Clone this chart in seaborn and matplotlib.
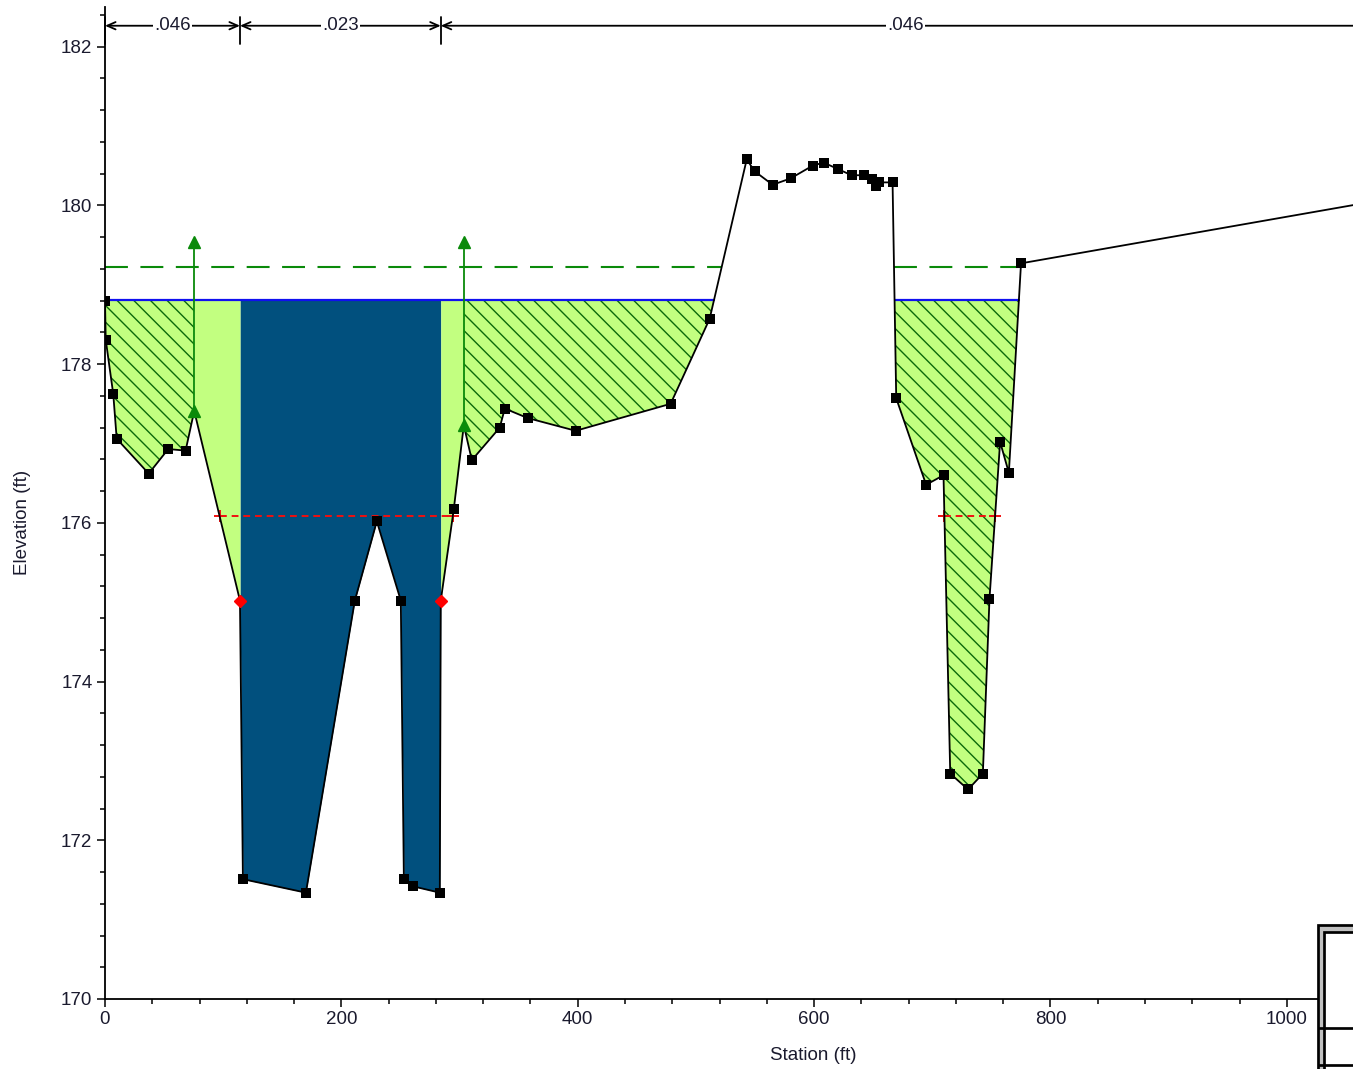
import numpy as np
import matplotlib
matplotlib.use("Agg")
import matplotlib.pyplot as plt
from matplotlib.patches import Rectangle
from matplotlib.lines import Line2D
from matplotlib.ticker import MultipleLocator
import seaborn as sns

# ---- cross-section data (ft) ----
station = [0.0, 0.6, 7.0, 9.9, 37.0, 53.5, 68.2, 75.5, 114.2, 116.7, 170.0, 211.4,
           230.0, 250.3, 252.9, 260.5, 283.3, 284.1, 295.1, 303.6, 310.4, 334.0,
           338.3, 357.7, 398.3, 478.6, 511.6, 543.0, 549.7, 564.9, 580.1, 598.7,
           608.0, 619.9, 631.7, 641.9, 648.6, 652.0, 654.6, 666.4, 669.5, 694.8,
           709.5, 715.2, 730.3, 742.8, 748.4, 757.4, 764.8, 775.1, 1070.0]
elevation = [178.80, 178.31, 177.62, 177.06, 176.62, 176.93, 176.91, 177.41, 175.02,
             171.51, 171.34, 175.02, 176.02, 175.02, 171.51, 171.42, 171.34, 175.02,
             176.17, 177.23, 176.79, 177.20, 177.44, 177.32, 177.16, 177.50, 178.57,
             180.58, 180.43, 180.26, 180.34, 180.50, 180.54, 180.46, 180.38, 180.38,
             180.33, 180.24, 180.29, 180.29, 177.57, 176.48, 176.60, 172.84, 172.64,
             172.84, 175.04, 177.02, 176.63, 179.27, 180.04]

levee_station = [75.5, 303.6]
levee_top = 179.54
bank_station = [114.2, 284.1]
ineffective_ranges = [(0.0, 75.5), (303.6, 1070.0)]

ws_elev = 178.81     # water surface
eg_elev = 179.22     # energy grade
crit_elev = 176.08   # critical water surface

n_breaks = [0.0, 114.2, 284.1, 1070.0]
n_values = [".046", ".023", ".046"]

x_ticks = [0, 200, 400, 600, 800, 1000]
y_ticks = [170, 172, 174, 176, 178, 180, 182]

# ---- colours ----
CHANNEL = "#01507E"
OVERBANK = "#C2FF80"
HATCH = "#0B6A0B"
GREEN = "#0A8A0A"

sns.set_theme(style="ticks")
plt.rcParams["font.family"] = ["Liberation Sans", "DejaVu Sans"]
plt.rcParams["hatch.linewidth"] = 1.0
plt.rcParams["hatch.color"] = HATCH

st = np.array(station)
el = np.array(elevation)

W, H = 1353, 1069
fig = plt.figure(figsize=(W / 100, H / 100), dpi=100)
ax = fig.add_axes([105 / W, 70 / H, 1 - 105 / W, 1 - 77 / H])
ax.set_facecolor("white")


def wet_ranges(level):
    """Station intervals where the ground lies below a given level."""
    out, start = [], (st[0] if el[0] < level else None)
    for i in range(1, len(st)):
        a, b = el[i - 1] < level, el[i] < level
        if a != b:
            t = (level - el[i - 1]) / (el[i] - el[i - 1])
            xc = st[i - 1] + t * (st[i] - st[i - 1])
            if b:
                start = xc
            else:
                out.append((start, xc))
                start = None
    if start is not None:
        out.append((start, st[-1]))
    return out


def fill_water(a, b, **kw):
    m = (st >= a) & (st <= b)
    ax.fill_between(st[m], el[m], ws_elev, where=el[m] < ws_elev,
                    interpolate=True, linewidth=0, zorder=1, **kw)


# main channel and effective overbank flow
fill_water(bank_station[0], bank_station[1], color=CHANNEL)
fill_water(levee_station[0], bank_station[0], color=OVERBANK)
fill_water(bank_station[1], levee_station[1], color=OVERBANK)
# ineffective flow areas (hatched)
for a, b in ineffective_ranges:
    fill_water(a, b, facecolor=OVERBANK, edgecolor=HATCH, hatch="\\\\")

# energy grade, water surface, critical depth
for a, b in wet_ranges(eg_elev):
    ax.plot([a, b], [eg_elev, eg_elev], color=GREEN, lw=1.5,
            dashes=(11, 6), zorder=2)
for a, b in wet_ranges(ws_elev):
    ax.plot([a, b], [ws_elev, ws_elev], color="#1010F0", lw=1.6, zorder=3)
for a, b in wet_ranges(crit_elev):
    ax.plot([a, b], [crit_elev, crit_elev], color="#F01010", lw=1.4,
            dashes=(3.5, 2.5), zorder=3)
    ax.plot([a, b], [crit_elev, crit_elev], ls="none", color="#F01010",
            marker="+", markersize=9, markeredgewidth=1.4, zorder=3)

# ground line and survey points
sns.lineplot(x=st, y=el, sort=False, estimator=None, color="black", lw=1.3,
             ax=ax, zorder=4)
plain = ~np.isin(st, levee_station + bank_station) & (st < 1056)
sns.scatterplot(x=st[plain], y=el[plain], marker="s", s=48, color="black",
                linewidth=0, ax=ax, zorder=5)

# bank stations
bank_el = el[np.isin(st, bank_station)]
ax.plot(bank_station, bank_el, ls="none", marker="D", markersize=6.5,
        color="#FF0000", zorder=6)

# levees
for s in levee_station:
    g = el[st == s][0]
    ax.plot([s, s], [g, levee_top], color=GREEN, lw=1.3, zorder=6)
    ax.plot([s, s], [g, levee_top], ls="none", marker="^", markersize=8,
            color=GREEN, zorder=6)

# Manning's n bar along the top
y_n = 182.264
for b in n_breaks[:-1]:
    ax.plot([b, b], [182.04, 182.38], color="black", lw=1.3, zorder=6,
            clip_on=False)
for a, b, n in zip(n_breaks[:-1], n_breaks[1:], n_values):
    ax.annotate("", xy=(b, y_n), xytext=(a, y_n), annotation_clip=False,
                arrowprops=dict(arrowstyle="<->,head_length=0.5,head_width=0.22",
                                color="black", lw=1.3, shrinkA=0, shrinkB=0,
                                mutation_scale=12), zorder=6)
    ax.text((a + b) / 2, y_n, n, ha="center", va="center", fontsize=13.5,
            color="#1a1a2e", zorder=7,
            bbox=dict(facecolor="white", edgecolor="none", pad=1.0))

# axes styling
ax.set_xlim(0, 1056)
ax.set_ylim(170, 182.5)
ax.set_xticks(x_ticks)
ax.set_yticks(y_ticks)
ax.xaxis.set_minor_locator(MultipleLocator(40))
ax.yaxis.set_minor_locator(MultipleLocator(0.4))
ax.tick_params(which="major", direction="out", length=6, width=1.1,
               labelsize=13.5, colors="black", labelcolor="#1a1a2e", pad=3)
ax.tick_params(which="minor", direction="out", length=3.5, width=1.1,
               colors="black")
for side in ("top", "right"):
    ax.spines[side].set_visible(False)
for side in ("left", "bottom"):
    ax.spines[side].set_color("black")
    ax.spines[side].set_linewidth(1.3)

ax.set_xlabel("Station (ft)", fontsize=13.5, color="#1a1a2e",
              ha="center", va="center")
ax.set_ylabel("Elevation (ft)", fontsize=13.5, color="#1a1a2e",
              ha="center", va="center")
ax.xaxis.set_label_coords((813 - 105) / 1248, (999 - 1055) / 992)
ax.yaxis.set_label_coords((23 - 105) / 1248, (999 - 522) / 992)

# legend frame at the lower right corner
px = lambda x: x / W
py = lambda y: 1 - y / H
fig.add_artist(Rectangle((px(1318), py(1120)), px(1420) - px(1318),
                         py(925.3) - py(1120), transform=fig.transFigure,
                         facecolor="#C0C0C0", edgecolor="black", lw=1.95,
                         zorder=10))
fig.add_artist(Rectangle((px(1323.7), py(1120)), px(1420) - px(1323.7),
                         py(932) - py(1120), transform=fig.transFigure,
                         facecolor="white", edgecolor="black", lw=1.95,
                         zorder=11))
for yy in (1028, 1064.7):
    fig.add_artist(Line2D([px(1319), px(1360)], [py(yy), py(yy)],
                          transform=fig.transFigure, color="black", lw=1.95,
                          zorder=12))

fig.savefig("out.png", dpi=100, facecolor="white")
